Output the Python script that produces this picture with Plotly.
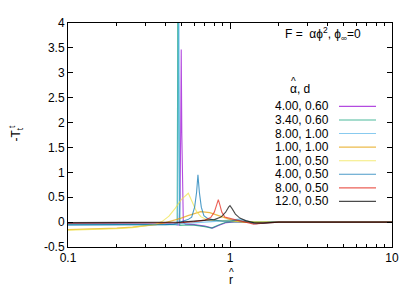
import plotly.graph_objects as go

# ---- data ----
labels = ["4.00, 0.60", "3.40, 0.60", "8.00, 1.00", "1.00, 1.00",
          "1.00, 0.50", "4.00, 0.50", "8.00, 0.50", "12.0, 0.50"]
colors = ["#9400d3", "#009e73", "#56b4e9", "#e69f00",
          "#f0e442", "#0072b2", "#e51e10", "#000000"]

r_purple = [0.1, 0.2, 0.3, 0.4, 0.45, 0.485, 0.492, 0.496, 0.5, 0.504, 0.508, 0.515, 0.53, 0.6, 0.7, 0.78, 0.85, 0.95, 1.1, 1.3, 1.6, 2.0, 10]
v_purple = [-0.03, -0.03, -0.03, -0.03, -0.04, -0.06, 0.5, 1.8, 3.47, 1.8, 0.5, 0.0, -0.04, -0.05, -0.08, -0.12, -0.07, -0.01, 0.01, 0.0, -0.01, 0.0, 0.0]

r_green = [0.1, 0.2, 0.3, 0.4, 0.45, 0.472, 0.475, 0.478, 0.481, 0.485, 0.49, 0.52, 0.6, 0.7, 0.77, 0.85, 0.95, 1.1, 1.4, 2.0, 10]
v_green = [-0.04, -0.04, -0.04, -0.04, -0.05, -0.05, 3.0, 9.0, 3.0, -0.02, -0.065, -0.06, -0.06, -0.09, -0.12, -0.06, 0.0, 0.01, 0.0, 0.0, 0.0]

r_cyan = [0.1, 0.2, 0.3, 0.4, 0.45, 0.476, 0.48, 0.483, 0.486, 0.49, 0.5, 0.6, 0.7, 0.85, 1.0, 1.15, 1.25, 1.4, 1.6, 1.9, 10]
v_cyan = [-0.03, -0.03, -0.03, -0.03, -0.04, -0.05, 2.0, 6.0, 2.0, -0.03, -0.03, -0.02, 0.0, 0.02, 0.04, 0.06, 0.03, -0.03, -0.02, 0.0, 0.0]

r_orange = [0.1, 0.15, 0.2, 0.25, 0.3, 0.35, 0.4, 0.45, 0.5, 0.55, 0.6, 0.66, 0.75, 0.85, 0.95, 1.05, 1.2, 1.4, 1.7, 2.0, 10]
v_orange = [-0.15, -0.14, -0.12, -0.1, -0.08, -0.05, -0.01, 0.03, 0.08, 0.13, 0.17, 0.21, 0.19, 0.13, 0.07, 0.03, 0.0, -0.01, 0.0, 0.0, 0.0]

r_yellow = [0.1, 0.15, 0.2, 0.25, 0.3, 0.35, 0.38, 0.42, 0.46, 0.5, 0.553, 0.59, 0.62, 0.66, 0.72, 0.85, 1.0, 1.3, 1.6, 2.0, 10]
v_yellow = [-0.16, -0.15, -0.13, -0.11, -0.08, -0.04, 0.01, 0.12, 0.28, 0.45, 0.58, 0.38, 0.22, 0.11, 0.05, 0.03, 0.02, 0.01, 0.0, 0.0, 0.0]

r_blue = [0.1, 0.2, 0.3, 0.4, 0.45, 0.5, 0.55, 0.58, 0.605, 0.622, 0.634, 0.647, 0.665, 0.69, 0.73, 0.8, 0.9, 1.0, 1.1, 1.25, 1.45, 1.8, 10]
v_blue = [-0.06, -0.06, -0.05, -0.05, -0.04, 0.0, 0.05, 0.1, 0.3, 0.6, 0.95, 0.6, 0.3, 0.13, 0.07, 0.04, 0.02, 0.02, 0.04, 0.01, -0.03, 0.0, 0.0]

r_red = [0.1, 0.2, 0.3, 0.4, 0.5, 0.6, 0.7, 0.76, 0.8, 0.83, 0.847, 0.865, 0.89, 0.93, 1.0, 1.1, 1.25, 1.4, 1.6, 2.0, 10]
v_red = [-0.02, -0.02, -0.02, -0.02, -0.01, 0.01, 0.04, 0.09, 0.2, 0.36, 0.45, 0.35, 0.2, 0.1, 0.07, 0.04, 0.0, -0.04, -0.02, 0.0, 0.0]

r_black = [0.1, 0.2, 0.3, 0.4, 0.5, 0.6, 0.7, 0.8, 0.88, 0.94, 0.98, 1.0, 1.03, 1.08, 1.15, 1.25, 1.4, 1.6, 2.0, 10]
v_black = [-0.01, -0.01, -0.01, -0.01, 0.0, 0.02, 0.03, 0.05, 0.1, 0.2, 0.3, 0.33, 0.27, 0.16, 0.08, 0.03, -0.01, -0.02, 0.0, 0.0]

series_r = [r_purple, r_green, r_cyan, r_orange, r_yellow, r_blue, r_red, r_black]
series_v = [v_purple, v_green, v_cyan, v_orange, v_yellow, v_blue, v_red, v_black]

x_tick_vals = [0.1, 1, 10]
x_tick_text = ["0.1", "1", "10"]
x_minor_vals = [0.2, 0.3, 0.4, 0.5, 0.6, 0.7, 0.8, 0.9, 2, 3, 4, 5, 6, 7, 8, 9]
y_tick_vals = [-0.5, 0, 0.5, 1, 1.5, 2, 2.5, 3, 3.5, 4]
y_tick_text = ["-0.5", "0", "0.5", "1", "1.5", "2", "2.5", "3", "3.5", "4"]

# ---- layout geometry (screen pixels; page body has an 8px offset) ----
OFF = 8
W, H = 417 - OFF, 292 - OFF
L, R, T, B = 68, 392, 16, 247
pw, ph = R - L, B - T

def px(x):
    return (x - L) / pw

def py(y):
    return (B - y) / ph

FONT = "Liberation Sans, Arial, sans-serif"
OPAC = 0.7

fig = go.Figure()
for r, v, c, name in zip(series_r, series_v, colors, labels):
    fig.add_trace(go.Scatter(x=r, y=v, mode="lines", name=name, opacity=OPAC,
                             line=dict(color=c, width=1.1), showlegend=False))

annotations = []
shapes = []
# key title
annotations.append(dict(x=px(323), y=py(27), xref="paper", yref="paper",
                        text="F =  αϕ<sup>2</sup>, ϕ<sub>∞</sub>=0", showarrow=False,
                        xanchor="center", yanchor="middle",
                        font=dict(size=12, color="black", family=FONT)))
annotations.append(dict(x=px(300), y=py(84), xref="paper", yref="paper",
                        text="α, d", showarrow=False, xanchor="center", yanchor="middle",
                        font=dict(size=12, color="black", family=FONT)))
annotations.append(dict(x=px(293), y=py(76), xref="paper", yref="paper",
                        text="^", showarrow=False, xanchor="center", yanchor="middle",
                        font=dict(size=10, color="black", family=FONT)))
for i, (name, c) in enumerate(zip(labels, colors)):
    yy = 102 + i * 14
    annotations.append(dict(x=px(331), y=py(yy), xref="paper", yref="paper",
                            text=name, showarrow=False, xanchor="right", yanchor="middle",
                            font=dict(size=12, color="black", family=FONT)))
    shapes.append(dict(type="line", xref="paper", yref="paper",
                       x0=px(339), x1=px(376), y0=py(yy), y1=py(yy), opacity=OPAC,
                       line=dict(color=c, width=1.1)))

# axis titles
annotations.append(dict(x=px(16), y=py(130), xref="paper", yref="paper",
                        text="-T<sub>t</sub><sup>t</sup>", showarrow=False, textangle=-90,
                        xanchor="center", yanchor="middle",
                        font=dict(size=12, color="black", family=FONT)))
annotations.append(dict(x=px(231), y=py(281), xref="paper", yref="paper",
                        text="r", showarrow=False, xanchor="center", yanchor="middle",
                        font=dict(size=12, color="black", family=FONT)))
annotations.append(dict(x=px(231), y=py(273), xref="paper", yref="paper",
                        text="^", showarrow=False, xanchor="center", yanchor="middle",
                        font=dict(size=10, color="black", family=FONT)))

fig.update_layout(
    width=W, height=H,
    margin=dict(l=L - OFF, r=417 - R, t=T - OFF, b=292 - B),
    paper_bgcolor="white", plot_bgcolor="white",
    showlegend=False,
    annotations=annotations, shapes=shapes,
    font=dict(family=FONT, size=12, color="black"),
)
fig.update_xaxes(type="log", range=[-1, 1], tickvals=x_tick_vals, ticktext=x_tick_text,
                 ticks="inside", ticklen=6, tickcolor="black", showline=True, linecolor="black",
                 linewidth=1, mirror="allticks", showgrid=False, zeroline=False,
                 minor=dict(tickvals=x_minor_vals, ticks="inside", ticklen=3, tickcolor="black", showgrid=False),
                 tickfont=dict(size=12, color="black", family=FONT))
fig.update_yaxes(range=[-0.5, 4], tickvals=y_tick_vals, ticktext=y_tick_text,
                 ticks="inside", ticklen=5, tickcolor="black", showline=True, linecolor="black",
                 linewidth=1, mirror="allticks", showgrid=False, zeroline=False,
                 tickfont=dict(size=12, color="black", family=FONT))

fig.write_html("out.html")
